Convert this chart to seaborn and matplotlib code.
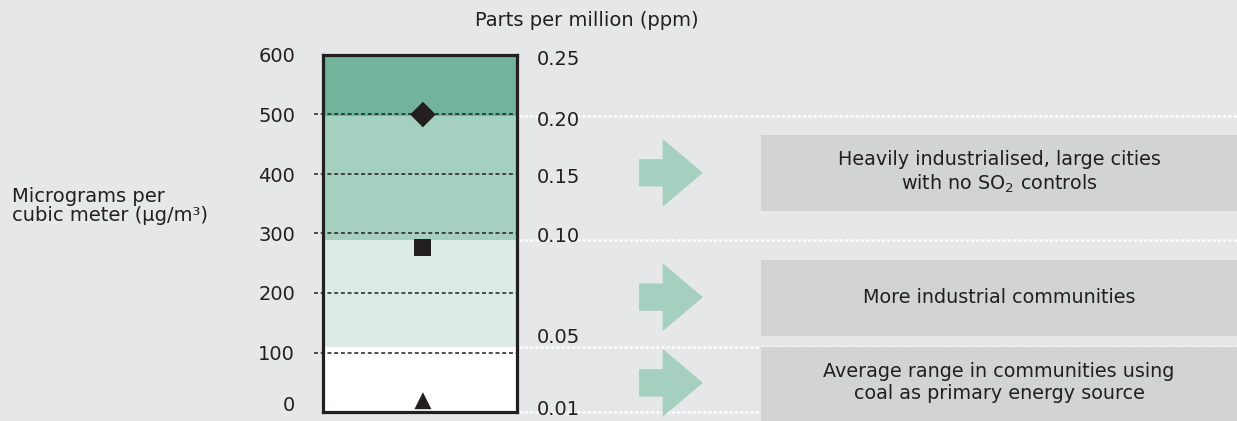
import numpy as np
import pandas as pd
import matplotlib
matplotlib.use("Agg")
import matplotlib.pyplot as plt
from matplotlib.patches import Rectangle, Polygon
import seaborn as sns

# data
categories = ["Heavily industrialised, large cities\nwith no SO$_2$ controls",
              "More industrial communities",
              "Average range in communities using\ncoal as primary energy source"]
marker_values = [500, 277, 19]          # ug/m3
marker_shapes = ["D", "s", "^"]
marker_sizes = [170, 150, 150]
band_edges = [0, 109, 289, 497, 600]     # ug/m3
band_colors = ["#ffffff", "#dcebe6", "#a5cfbf", "#72b39b"]
ug_ticks = [0, 100, 200, 300, 400, 500, 600]
ug_label_pos = [14, 100, 200, 300, 400, 500, 600]   # the 0 label sits a bit above the floor
ppm_labels = ["0.25", "0.20", "0.15", "0.10", "0.05", "0.01"]
ppm_pos = [595, 494, 398, 299, 128, 8]
group_centers = [402, 193, 49]           # arrows + text, ug/m3
box_spans = [(338, 466), (128, 255), (-20, 109)]

bg = "#e6e7e8"
ink = "#231f20"
sns.set_style("white")
plt.rcParams["font.family"] = ["DejaVu Sans"]
plt.rcParams["mathtext.default"] = "regular"
fs_axis = 14
fs_box = 13.8

fig = plt.figure(figsize=(12.37, 4.21), dpi=100, facecolor=bg)
W, H = 1237, 421
ax = fig.add_axes([323 / W, 1 - 412 / H, 194 / W, 357 / H])
ax.set_facecolor("white")
ax.set_xlim(0, 1)
ax.set_ylim(0, 600)
ax.set_zorder(2)

# colour bands
for lo, hi, c in zip(band_edges[:-1], band_edges[1:], band_colors):
    ax.axhspan(lo, hi, color=c, zorder=0, lw=0)

# dashed reference lines
for t in ug_ticks[1:-1]:
    ax.axhline(t, xmin=-0.046, xmax=1, color=ink, lw=1.1,
               ls=(0, (2.6, 1.8)), clip_on=False, zorder=2)

df = pd.DataFrame({"x": [0.515] * 3, "y": marker_values, "cat": categories})
sns.scatterplot(data=df, x="x", y="y", style="cat", size="cat",
                markers=dict(zip(categories, marker_shapes)),
                sizes=dict(zip(categories, marker_sizes)),
                color=ink, edgecolor="none", legend=False, ax=ax,
                zorder=3, clip_on=False)
ax.set_xlabel("")
ax.set_ylabel("")
ax.set_xticks([])
ax.set_yticks(ug_label_pos)
ax.set_yticklabels([str(t) for t in ug_ticks], fontsize=fs_axis, color=ink)
ax.tick_params(axis="y", length=0, pad=20)
for s in ax.spines.values():
    s.set_visible(True)
    s.set_linewidth(2.3)
    s.set_color(ink)
    s.set_zorder(5)

# ppm scale on the right
axr = ax.twinx()
axr.set_ylim(0, 600)
axr.set_yticks(ppm_pos)
axr.set_yticklabels(ppm_labels, fontsize=fs_axis, color=ink)
axr.tick_params(axis="y", length=0, pad=14)
axr.set_zorder(3)
for s in axr.spines.values():
    s.set_visible(False)

# right-hand panel: dotted lines, arrows, description boxes
ax2 = fig.add_axes([520 / W, 1 - 412 / H, 717 / W, 357 / H], sharey=ax)
ax2.set_xlim(0, 1)
ax2.axis("off")
ax2.patch.set_alpha(0)
ax2.set_zorder(1)
for e in band_edges[:-1]:
    ax2.axhline(e, xmin=0, xmax=1, color="white", lw=1.8,
                ls=(0, (0.5, 1.6)), dash_capstyle="round", clip_on=False, zorder=1)

for c, (b0, b1), label in zip(group_centers, box_spans, categories):
    x0, x1, x2 = 0.166, 0.199, 0.255
    arrow = Polygon([(x0, c - 23), (x1, c - 23), (x1, c - 57), (x2, c),
                     (x1, c + 57), (x1, c + 23), (x0, c + 23)],
                    closed=True, fc="#a5cfbf", ec="none", zorder=2, clip_on=False)
    ax2.add_patch(arrow)
    ax2.add_patch(Rectangle((0.336, b0), 0.664, b1 - b0, fc="#d1d3d4",
                            ec="none", zorder=3, clip_on=False))
    ax2.text(0.668, c, label, ha="center", va="center", fontsize=fs_box,
             color=ink, linespacing=1.2, zorder=4)

fig.text(587 / W, 1 - 21 / H, "Parts per million (ppm)", ha="center",
         va="center", fontsize=fs_axis, color=ink)
fig.text(12 / W, 1 - 206 / H, "Micrograms per\ncubic meter (µg/m³)", ha="left",
         va="center", fontsize=fs_axis, color=ink, linespacing=1.05)

fig.savefig("out.png", dpi=100, facecolor=bg)
